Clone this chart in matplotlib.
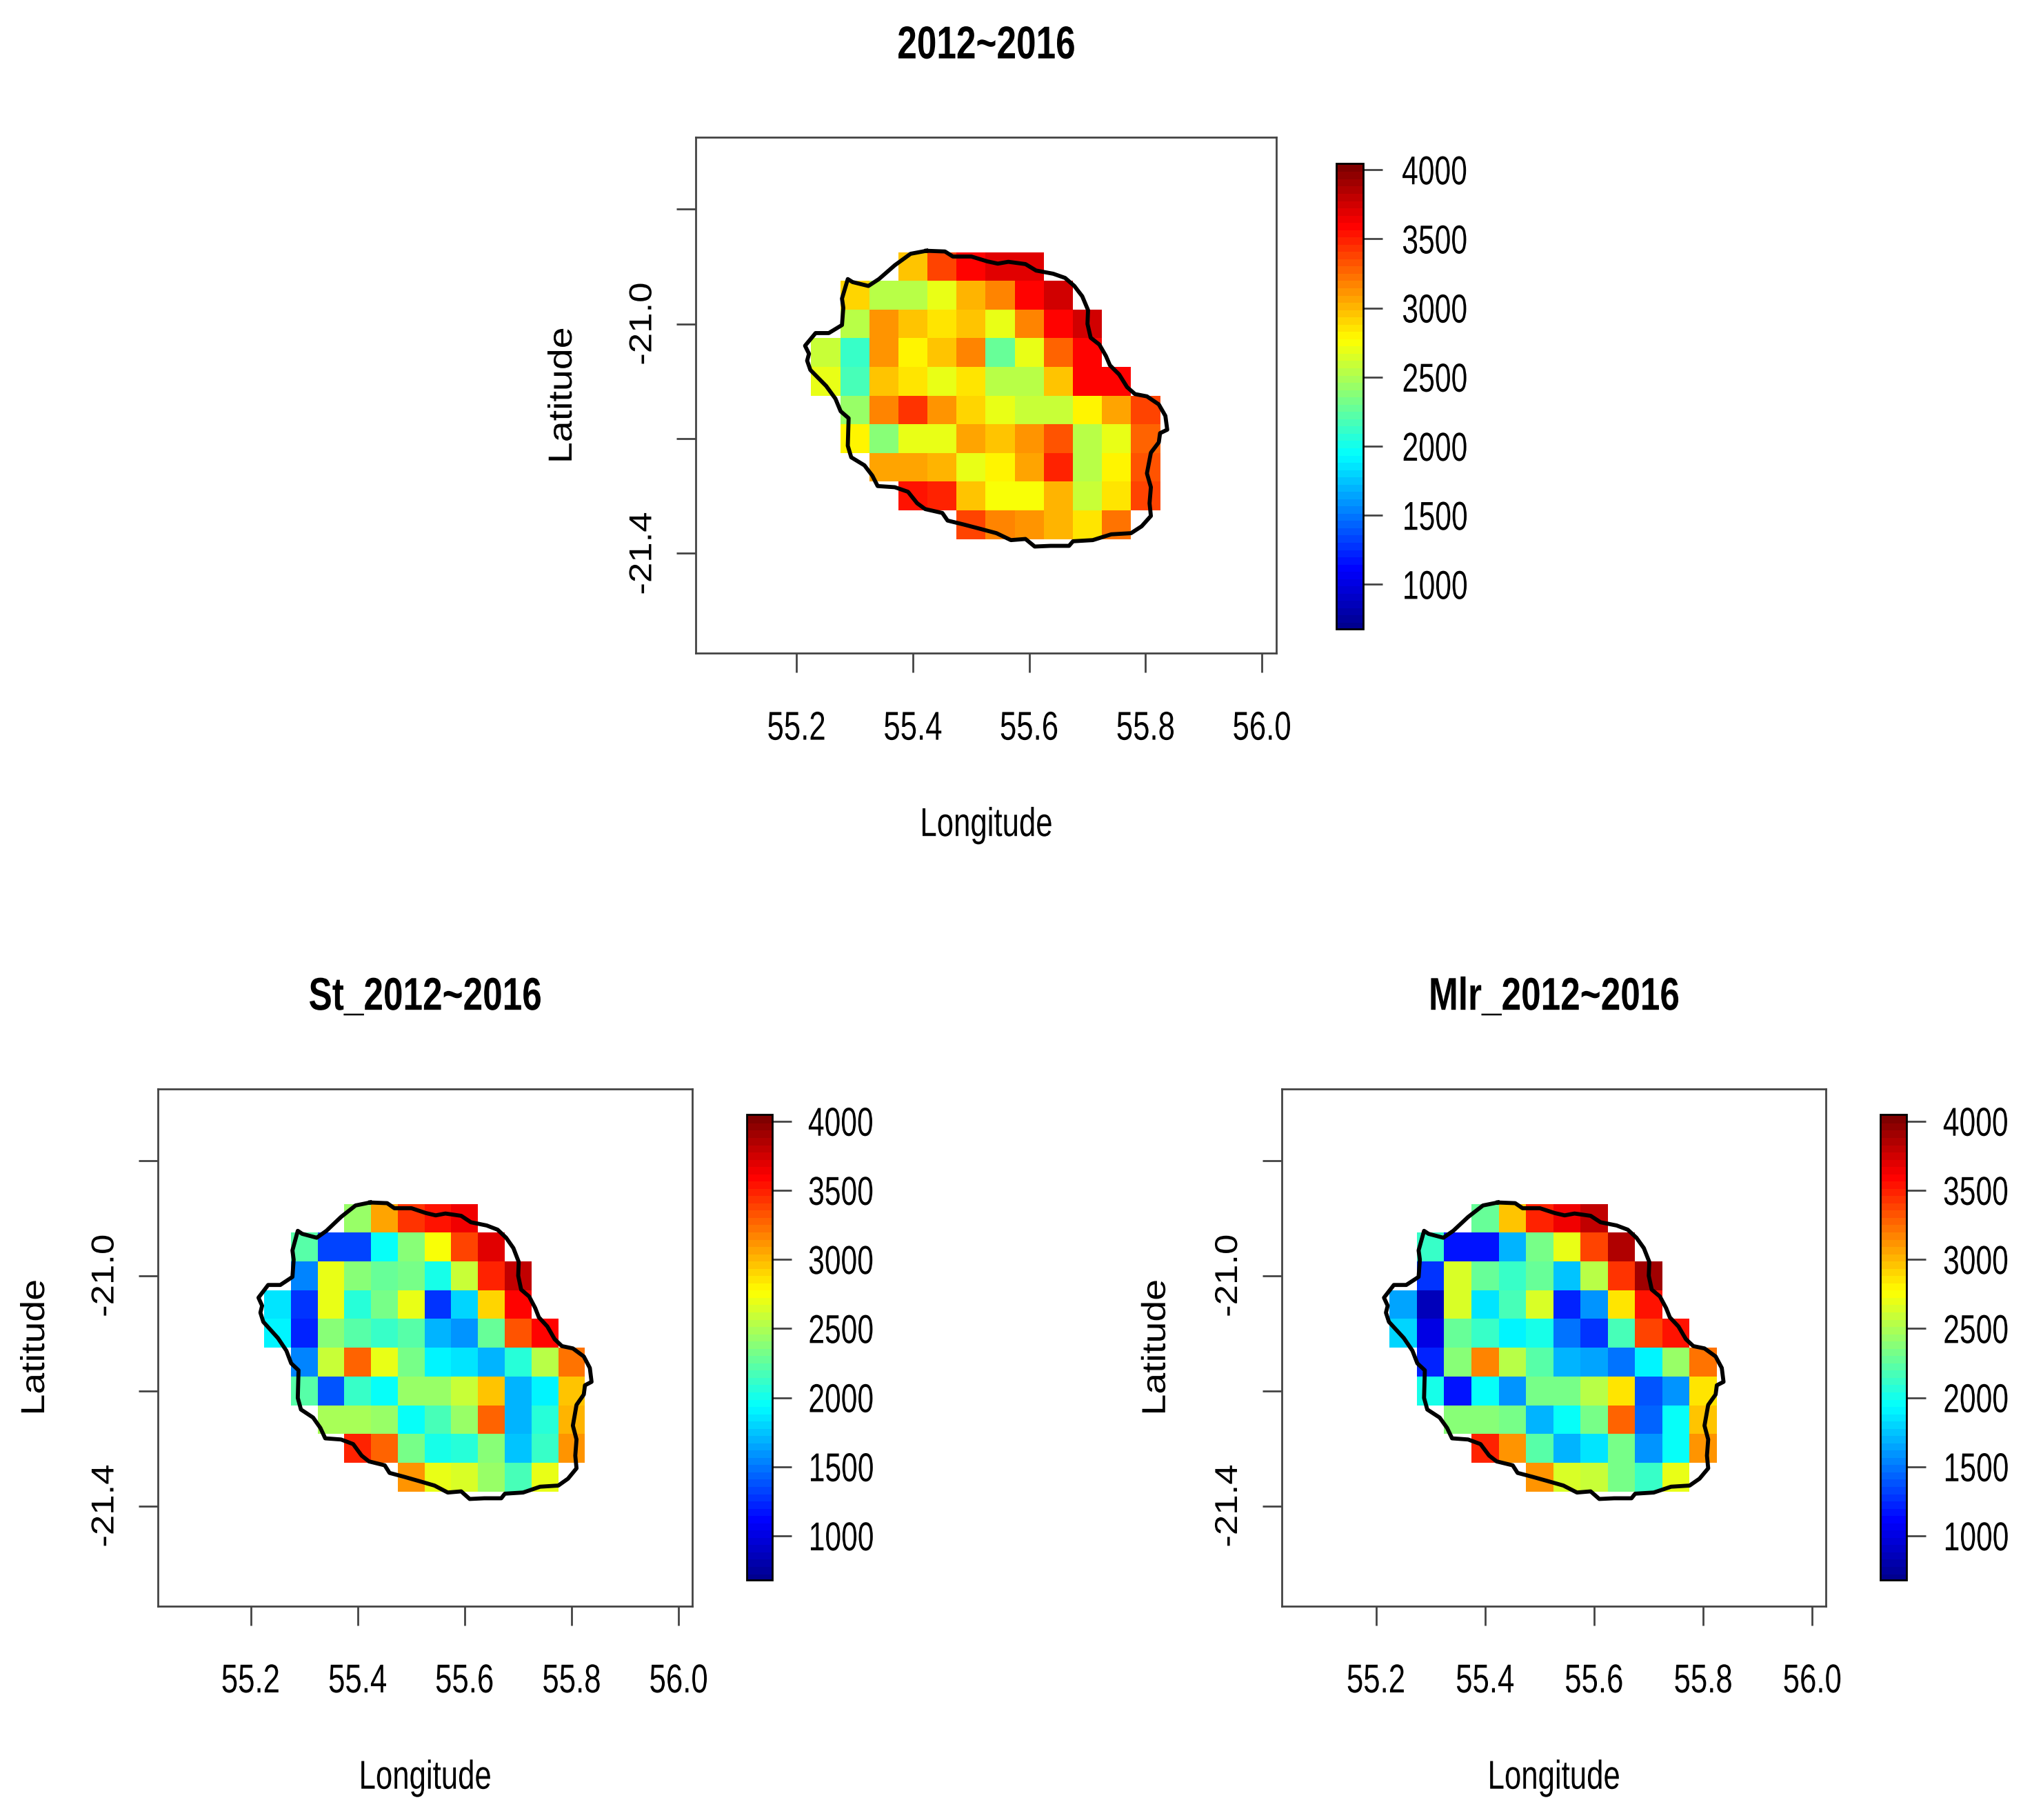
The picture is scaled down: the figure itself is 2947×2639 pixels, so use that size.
import numpy as np
import matplotlib
matplotlib.use("Agg")
import matplotlib.pyplot as plt
from matplotlib.colors import LinearSegmentedColormap
from matplotlib.patheffects import AbstractPathEffect
from matplotlib.transforms import Affine2D

# cell centres of the 0.05 degree grid
lons = [55.25, 55.30, 55.35, 55.40, 55.45, 55.50, 55.55, 55.60, 55.65, 55.70, 55.75, 55.80]
lats = [-20.90, -20.95, -21.00, -21.05, -21.10, -21.15, -21.20, -21.25, -21.30, -21.35]

n = np.nan
obs = [
    [n, n, n, 2950, 3370, 3600, 3700, 3720, n, n, n, n],
    [n, 2900, 2530, 2560, 2720, 3000, 3200, 3590, 3750, n, n, n],
    [n, 2550, 3130, 2950, 2850, 2950, 2700, 3170, 3600, 3750, n, n],
    [2620, 2130, 3130, 2790, 2970, 3190, 2280, 2680, 3310, 3600, n, n],
    [2730, 2200, 2950, 2850, 2730, 2880, 2570, 2530, 2950, 3600, 3600, n],
    [n, 2430, 3170, 3440, 3150, 2930, 2700, 2620, 2600, 2810, 3100, 3410],
    [n, 2790, 2370, 2730, 2680, 3070, 2990, 3130, 3360, 2570, 2680, 3310],
    [n, n, 3100, 3100, 3040, 2730, 2790, 3070, 3520, 2570, 2820, 3340],
    [n, n, n, 3550, 3500, 2990, 2750, 2750, 3010, 2590, 2860, 3370],
    [n, n, n, n, n, 3390, 3180, 3150, 3010, 2880, 3210, n],
]
st = [
    [n, n, n, 2430, 3070, 3460, 3550, 3660, n, n, n, n],
    [n, 2220, 1340, 1350, 1960, 2370, 2750, 3410, 3720, n, n, n],
    [n, 1550, 2700, 2400, 2280, 2360, 2000, 2620, 3480, 3830, n, n],
    [1840, 1260, 2700, 2060, 2320, 2730, 1300, 1820, 2900, 3600, n, n],
    [1900, 1240, 2400, 2230, 2130, 2230, 1730, 1580, 2290, 3350, 3600, n],
    [n, 1550, 2620, 3260, 2680, 2330, 1900, 1880, 1680, 2100, 2530, 3230],
    [n, 2230, 1370, 2140, 1960, 2450, 2450, 2620, 2950, 1680, 1900, 2990],
    [n, n, 2490, 2490, 2430, 1960, 2160, 2450, 3280, 1680, 2060, 3000],
    [n, n, n, 3490, 3260, 2330, 2020, 2050, 2400, 1760, 2140, 3130],
    [n, n, n, n, n, 3150, 2680, 2660, 2430, 2190, 2700, n],
]
mlr = [
    [n, n, n, 2260, 2990, 3490, 3660, 3800, n, n, n, n],
    [n, 2140, 1190, 1190, 1680, 2330, 2700, 3380, 3860, n, n, n],
    [n, 1280, 2640, 2280, 2120, 2300, 1740, 2540, 3440, 3910, n, n],
    [1650, 850, 2640, 1840, 2170, 2640, 1220, 1600, 2880, 3550, n, n],
    [1790, 1000, 2270, 2110, 1930, 2030, 1510, 1290, 2170, 3380, 3550, n],
    [n, 1240, 2400, 3200, 2570, 2230, 1700, 1650, 1470, 1900, 2430, 3230],
    [n, 2000, 1180, 1960, 1620, 2340, 2340, 2530, 2880, 1400, 1620, 2880],
    [n, n, 2400, 2400, 2320, 1680, 1960, 2340, 3260, 1440, 1960, 2960],
    [n, n, n, 3490, 3150, 2230, 1730, 1840, 2340, 1600, 1960, 3130],
    [n, n, n, n, n, 3130, 2640, 2620, 2350, 2140, 2700, n],
]

# island outline
coast_lon = [55.4233, 55.4551, 55.4687, 55.5005, 55.5277, 55.5459, 55.5640, 55.5935, 55.6117, 55.6412,
             55.6616, 55.6775, 55.6911, 55.7011, 55.7001, 55.7056, 55.7206, 55.7319, 55.7387, 55.7546,
             55.7682, 55.7818, 55.8023, 55.8227, 55.8340, 55.8372, 55.8249, 55.8227, 55.8091, 55.8023,
             55.8091, 55.8068, 55.8091, 55.7932, 55.7750, 55.7410, 55.7092, 55.6752, 55.6684, 55.6366,
             55.6094, 55.5935, 55.5685, 55.5436, 55.5141, 55.4869, 55.4596, 55.4506, 55.4211, 55.4074,
             55.3916, 55.3689, 55.3394, 55.3303, 55.3167, 55.2940, 55.2881, 55.2895, 55.2758, 55.2668,
             55.2509, 55.2237, 55.2182, 55.2214, 55.2146, 55.2327, 55.2554, 55.2781, 55.2804, 55.2781,
             55.2881, 55.2963, 55.3235, 55.3416, 55.3689, 55.3961, 55.4233]
coast_lat = [-20.8726, -20.8738, -20.8826, -20.8826, -20.8910, -20.8950, -20.8918, -20.8958, -20.9070, -20.9126,
             -20.9199, -20.9339, -20.9519, -20.9760, -21.0000, -21.0241, -21.0361, -21.0561, -21.0722, -21.0882,
             -21.1102, -21.1223, -21.1263, -21.1403, -21.1603, -21.1844, -21.1904, -21.2064, -21.2245, -21.2605,
             -21.2846, -21.3126, -21.3347, -21.3527, -21.3647, -21.3667, -21.3768, -21.3788, -21.3868, -21.3868,
             -21.3880, -21.3748, -21.3768, -21.3647, -21.3567, -21.3495, -21.3427, -21.3295, -21.3227, -21.3126,
             -21.2926, -21.2846, -21.2826, -21.2645, -21.2465, -21.2325, -21.2124, -21.1643, -21.1523, -21.1303,
             -21.1082, -21.0802, -21.0641, -21.0521, -21.0381, -21.0160, -21.0160, -21.0020, -20.9720, -20.9559,
             -20.9219, -20.9271, -20.9339, -20.9219, -20.8978, -20.8778, -20.8726]

lon_ticks = [55.2, 55.4, 55.6, 55.8, 56.0]
lat_ticks = [-20.8, -21.0, -21.2, -21.4]
lat_labels = {-21.0: "-21.0", -21.4: "-21.4"}
cbar_ticks = [1000, 1500, 2000, 2500, 3000, 3500, 4000]

W, H = 2947, 2639
S = 2947 / 1568  # positions were measured on the 1568 wide view

plt.rcParams["font.family"] = "Liberation Sans"

# tim.colors style ramp
cmap = LinearSegmentedColormap.from_list("tim", [(0, "#00008F"), (0.125, "#0000FF"), (0.375, "#00FFFF"),
                                                 (0.625, "#FFFF00"), (0.875, "#FF0000"), (1, "#800000")], N=64)
cmap.set_bad("white")
VMIN, VMAX = 680, 4047


class Squeeze(AbstractPathEffect):
    # the horizontal text in the original is condensed, no narrow font is installed
    def __init__(self, sx, left=False):
        super().__init__()
        self.sx = sx
        self.left = left

    def draw_path(self, renderer, gc, tpath, affine, rgbFace=None):
        ext = tpath.get_extents(affine)
        x0 = ext.x0 if self.left else (ext.x0 + ext.x1) / 2
        squeezed = affine + Affine2D().translate(-x0, 0).scale(self.sx, 1).translate(x0, 0)
        renderer.draw_path(gc, tpath, squeezed, rgbFace)


def box(x0, y0, x1, y1):
    # rectangle in view pixels, y from the top
    return [x0 * S / W, 1 - y1 * S / H, (x1 - x0) * S / W, (y1 - y0) * S / H]


def panel(fig, values, title, ax_box, cb_box, cb_pad, lat_off):
    ax = fig.add_axes(box(*ax_box))
    xe = np.append(np.array(lons) - 0.025, lons[-1] + 0.025)
    ye = np.append(np.array(lats) + 0.025, lats[-1] - 0.025)
    mesh = ax.pcolormesh(xe, ye, np.ma.masked_invalid(values), cmap=cmap, vmin=VMIN, vmax=VMAX, linewidth=0)
    ax.plot(coast_lon, coast_lat, color="black", lw=4.2, solid_joinstyle="round")
    ax.set_xlim(55.027, 56.025)
    ax.set_ylim(-21.574, -20.675)
    ax.set_xticks(lon_ticks)
    ax.set_xticklabels(["%.1f" % v for v in lon_ticks], fontsize=42)
    for lab in ax.get_xticklabels():
        lab.set_path_effects([Squeeze(0.75)])
    ax.set_yticks(lat_ticks)
    ax.set_yticklabels([lat_labels.get(v, "") for v in lat_ticks], rotation=90, va="center", fontsize=38)
    for lab in ax.get_yticklabels():
        lab.set_path_effects([Squeeze(0.87)])
    ax.tick_params(length=20, width=2, color="#444444")
    ax.tick_params(axis="x", pad=40)
    ax.tick_params(axis="y", pad=17)
    for sp in ax.spines.values():
        sp.set_linewidth(2)
        sp.set_color("#444444")

    xc = (ax_box[0] + ax_box[2]) / 2 * S / W
    fig.text(xc, 1 - (ax_box[1] - 70) * S / H, title, ha="center", va="center", fontsize=48,
             fontweight="bold", path_effects=[Squeeze(0.77)])
    fig.text(xc, 1 - (ax_box[3] + 133) * S / H, "Longitude", ha="center", va="center", fontsize=42,
             path_effects=[Squeeze(0.75)])
    yc = 1 - (ax_box[1] + ax_box[3]) / 2 * S / H
    fig.text((ax_box[0] - lat_off) * S / W, yc, "Latitude", rotation=90, ha="center", va="center", fontsize=40,
             path_effects=[Squeeze(0.87)])

    cax = fig.add_axes(box(*cb_box))
    cb = fig.colorbar(mesh, cax=cax)
    cb.set_ticks(cbar_ticks, labels=[str(v) for v in cbar_ticks])
    cb.solids.set_edgecolor("face")
    cb.outline.set_linewidth(2)
    cb.ax.tick_params(length=20, width=2, color="#444444", pad=cb_pad, labelsize=42)
    for lab in cb.ax.get_yticklabels():
        lab.set_path_effects([Squeeze(0.73, left=True)])


fig = plt.figure(figsize=(W / 100, H / 100), dpi=100, facecolor="white")
panel(fig, obs, "2012~2016", (537, 106, 985, 504), (1031, 126, 1052, 485), 20, 102)
panel(fig, st, "St_2012~2016", (122, 840, 534, 1239), (576, 860, 596, 1219), 17, 94)
panel(fig, mlr, "Mlr_2012~2016", (989, 840, 1409, 1239), (1451, 860, 1471, 1219), 18, 96)
fig.savefig("out.png", dpi=100)
